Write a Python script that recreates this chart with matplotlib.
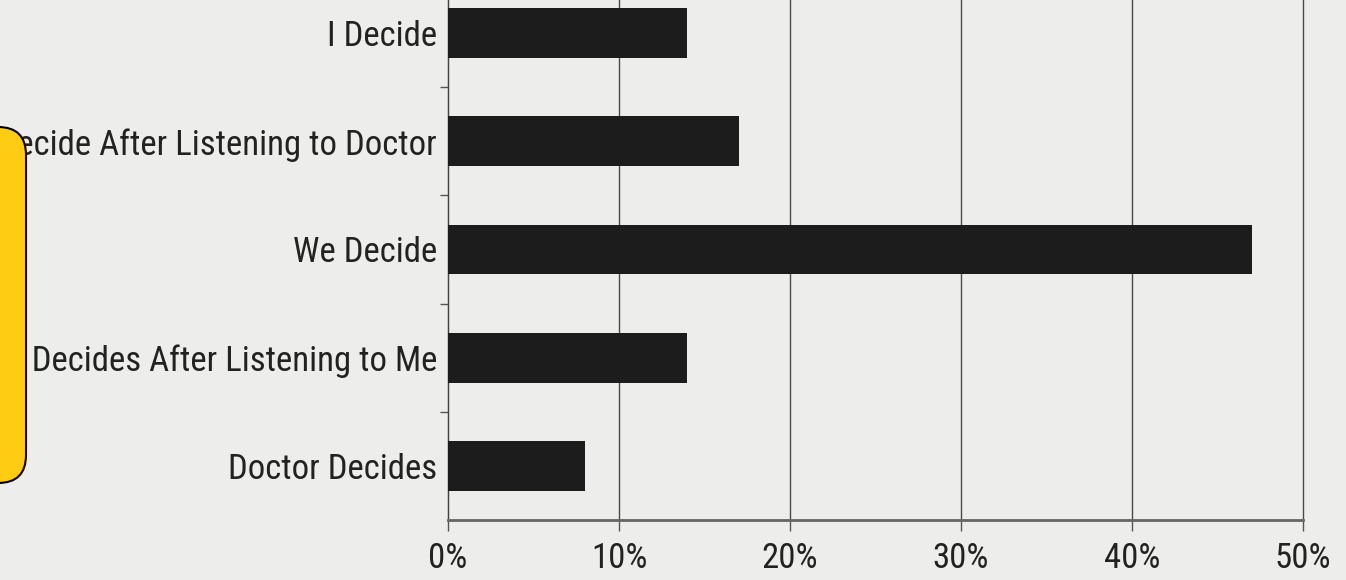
import matplotlib
matplotlib.use("Agg")
import matplotlib.pyplot as plt
from matplotlib.patches import FancyBboxPatch
import numpy as np

# ---------------------------------------------------------------------------
# Data
# ---------------------------------------------------------------------------
categories = [
    "I Decide",
    "I Decide After Listening to Doctor",
    "We Decide",
    "Doctor Decides After Listening to Me",
    "Doctor Decides",
]
shares = [14, 17, 47, 14, 8]
x_ticks = [0, 10, 20, 30, 40, 50]
x_labels = ["0%", "10%", "20%", "30%", "40%", "50%"]

plt.rcParams["font.family"] = ["Roboto Condensed", "Archivo Narrow", "PT Sans Narrow",
                               "Fira Sans Condensed", "DejaVu Sans"]

W, H = 1346, 580
fig = plt.figure(figsize=(W / 100, H / 100), dpi=100)
fig.patch.set_facecolor("#ededeb")

# axes placed in pixel terms (top runs past the cropped edge)
left, right, bottom_px, top_px = 448, 1303, 520, -21
ax = fig.add_axes([left / W, (H - bottom_px) / H,
                   (right - left) / W, (bottom_px - top_px) / H])
ax.set_facecolor("none")

y = np.arange(len(categories))
ax.barh(y, shares, height=0.46, color="#1c1c1c", zorder=3)
ax.set_ylim(len(categories) - 0.5, -0.5)
ax.set_xlim(0, 50)

ax.set_yticks(y)
ax.set_yticklabels(categories, fontsize=25, color="#222222")
ax.set_yticks(np.arange(len(categories) - 1) + 0.5, minor=True)
ax.tick_params(axis="y", which="major", length=0, pad=8)
ax.tick_params(axis="y", which="minor", length=6, width=1, color="#555555")

ax.set_xticks(x_ticks)
ax.set_xticklabels(x_labels, fontsize=25, color="#222222")
ax.tick_params(axis="x", length=8, width=1, color="#555555", pad=8)

ax.grid(axis="x", color="#4a4a4a", linewidth=1.0, zorder=1)
for line in ax.get_xgridlines():
    line.set_clip_on(False)
for side in ["top", "right"]:
    ax.spines[side].set_visible(False)
ax.spines["left"].set_color("#444444")
ax.spines["bottom"].set_color("#666666")
ax.spines["bottom"].set_linewidth(2)

# yellow rounded box on the left (pixel coordinates overlay)
over = fig.add_axes([0, 0, 1, 1])
over.set_xlim(0, W)
over.set_ylim(H, 0)
over.axis("off")
box = FancyBboxPatch((-30, 127), 56, 356,
                     boxstyle="round,pad=0,rounding_size=28",
                     facecolor="#ffcc14", edgecolor="black", linewidth=1.5)
over.add_patch(box)

fig.savefig("out.png", dpi=100, facecolor=fig.get_facecolor())
